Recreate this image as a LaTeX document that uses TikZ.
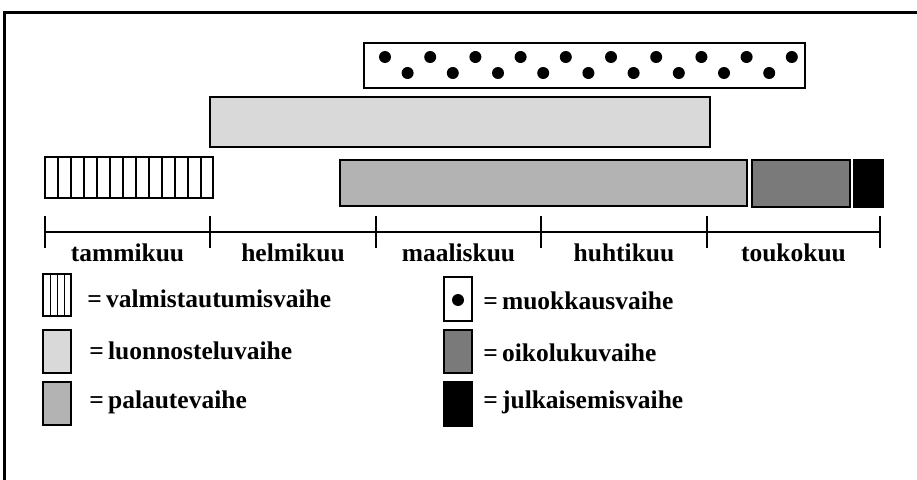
\documentclass[tikz,border=0pt]{standalone}
\usepackage{fontspec}
\setmainfont{Liberation Serif}
\definecolor{draftgray}{HTML}{D9D9D9}
\definecolor{feedbackgray}{HTML}{B3B3B3}
\definecolor{proofgray}{HTML}{7A7A7A}
\begin{document}
\begin{tikzpicture}
      [x=0.02cm,y=-0.02cm,
       bar/.style={draw=black,line width=0.9pt},
       month/.style={anchor=base,font=\bfseries\fontsize{14.5}{16}\selectfont},
       legend/.style={anchor=base west,inner sep=0pt,font=\bfseries\fontsize{14.5}{16}\selectfont},
       blob/.style={fill=black,draw=none}]
        \useasboundingbox (0,0) rectangle (917,480);
        % frame
        \draw [line width=1.2pt]
          (4.5,480)
          -- (4.5,12.5)
          -- (917,12.5)
        ;
        % muokkausvaihe
        \draw [bar,fill=white]
          (364,43) rectangle (805,88)
        ;
        \foreach \i in {0,...,18}
          {
            \pgfmathsetmacro{\dotx}{385+22.6*\i}
            \pgfmathsetmacro{\doty}{mod(\i,2)==0 ? 57 : 73}
            \fill [blob] (\dotx,\doty) circle (0.12cm);
          }
        % luonnosteluvaihe
        \draw [bar,fill=draftgray]
          (210,97) rectangle (710,147)
        ;
        % valmistautumisvaihe
        \draw [bar,fill=white]
          (45,157) rectangle (213,198)
        ;
        \foreach \x in {58,71,...,206}
          \draw [line width=0.7pt] (\x,157) -- (\x,198);
        % palaute, oikoluku, julkaiseminen
        \draw [bar,fill=feedbackgray]
          (340,160) rectangle (747,206)
        ;
        \draw [bar,fill=proofgray]
          (752,160) rectangle (850,207)
        ;
        \draw [bar,fill=black]
          (854,160) rectangle (883,207)
        ;
        % time axis
        \draw [line width=0.8pt]
          (45,232)
          -- (880,232)
        ;
        \foreach \x in {45,210,376,541,707,880}
          \draw [line width=0.8pt] (\x,216) -- (\x,248);
        \node [month] (tammi) at (127.5,261) {tammikuu};
        \node [month] (helmi) at (293,261) {helmikuu};
        \node [month] (maalis) at (458.5,261) {maaliskuu};
        \node [month] (huhti) at (624,261) {huhtikuu};
        \node [month] (touko) at (793.5,261) {toukokuu};
        % legend, left column
        \draw [bar,fill=white]
          (43,274) rectangle (71,316)
        ;
        \foreach \x in {50.5,57.5,64.5}
          \draw [line width=0.7pt] (\x,274) -- (\x,316);
        \draw [bar,fill=draftgray]
          (43,330) rectangle (71,373)
        ;
        \draw [bar,fill=feedbackgray]
          (43,382) rectangle (71,425)
        ;
        \node [legend] (valmis) at (87,307) {=\,valmistautumisvaihe};
        \node [legend] (luonnos) at (89,359) {=\,luonnosteluvaihe};
        \node [legend] (palaute) at (89,408) {=\,palautevaihe};
        % legend, right column
        \draw [bar,fill=white]
          (444,277) rectangle (472,321)
        ;
        \fill [blob] (458,300) circle (0.12cm);
        \draw [bar,fill=proofgray]
          (444,330) rectangle (472,373)
        ;
        \draw [bar,fill=black]
          (444,382) rectangle (472,426)
        ;
        \node [legend] (muokkaus) at (483,309) {=\,muokkausvaihe};
        \node [legend] (oikoluku) at (483,361) {=\,oikolukuvaihe};
        \node [legend] (julkaisu) at (483,408) {=\,julkaisemisvaihe};
      \end{tikzpicture}
\end{document}
